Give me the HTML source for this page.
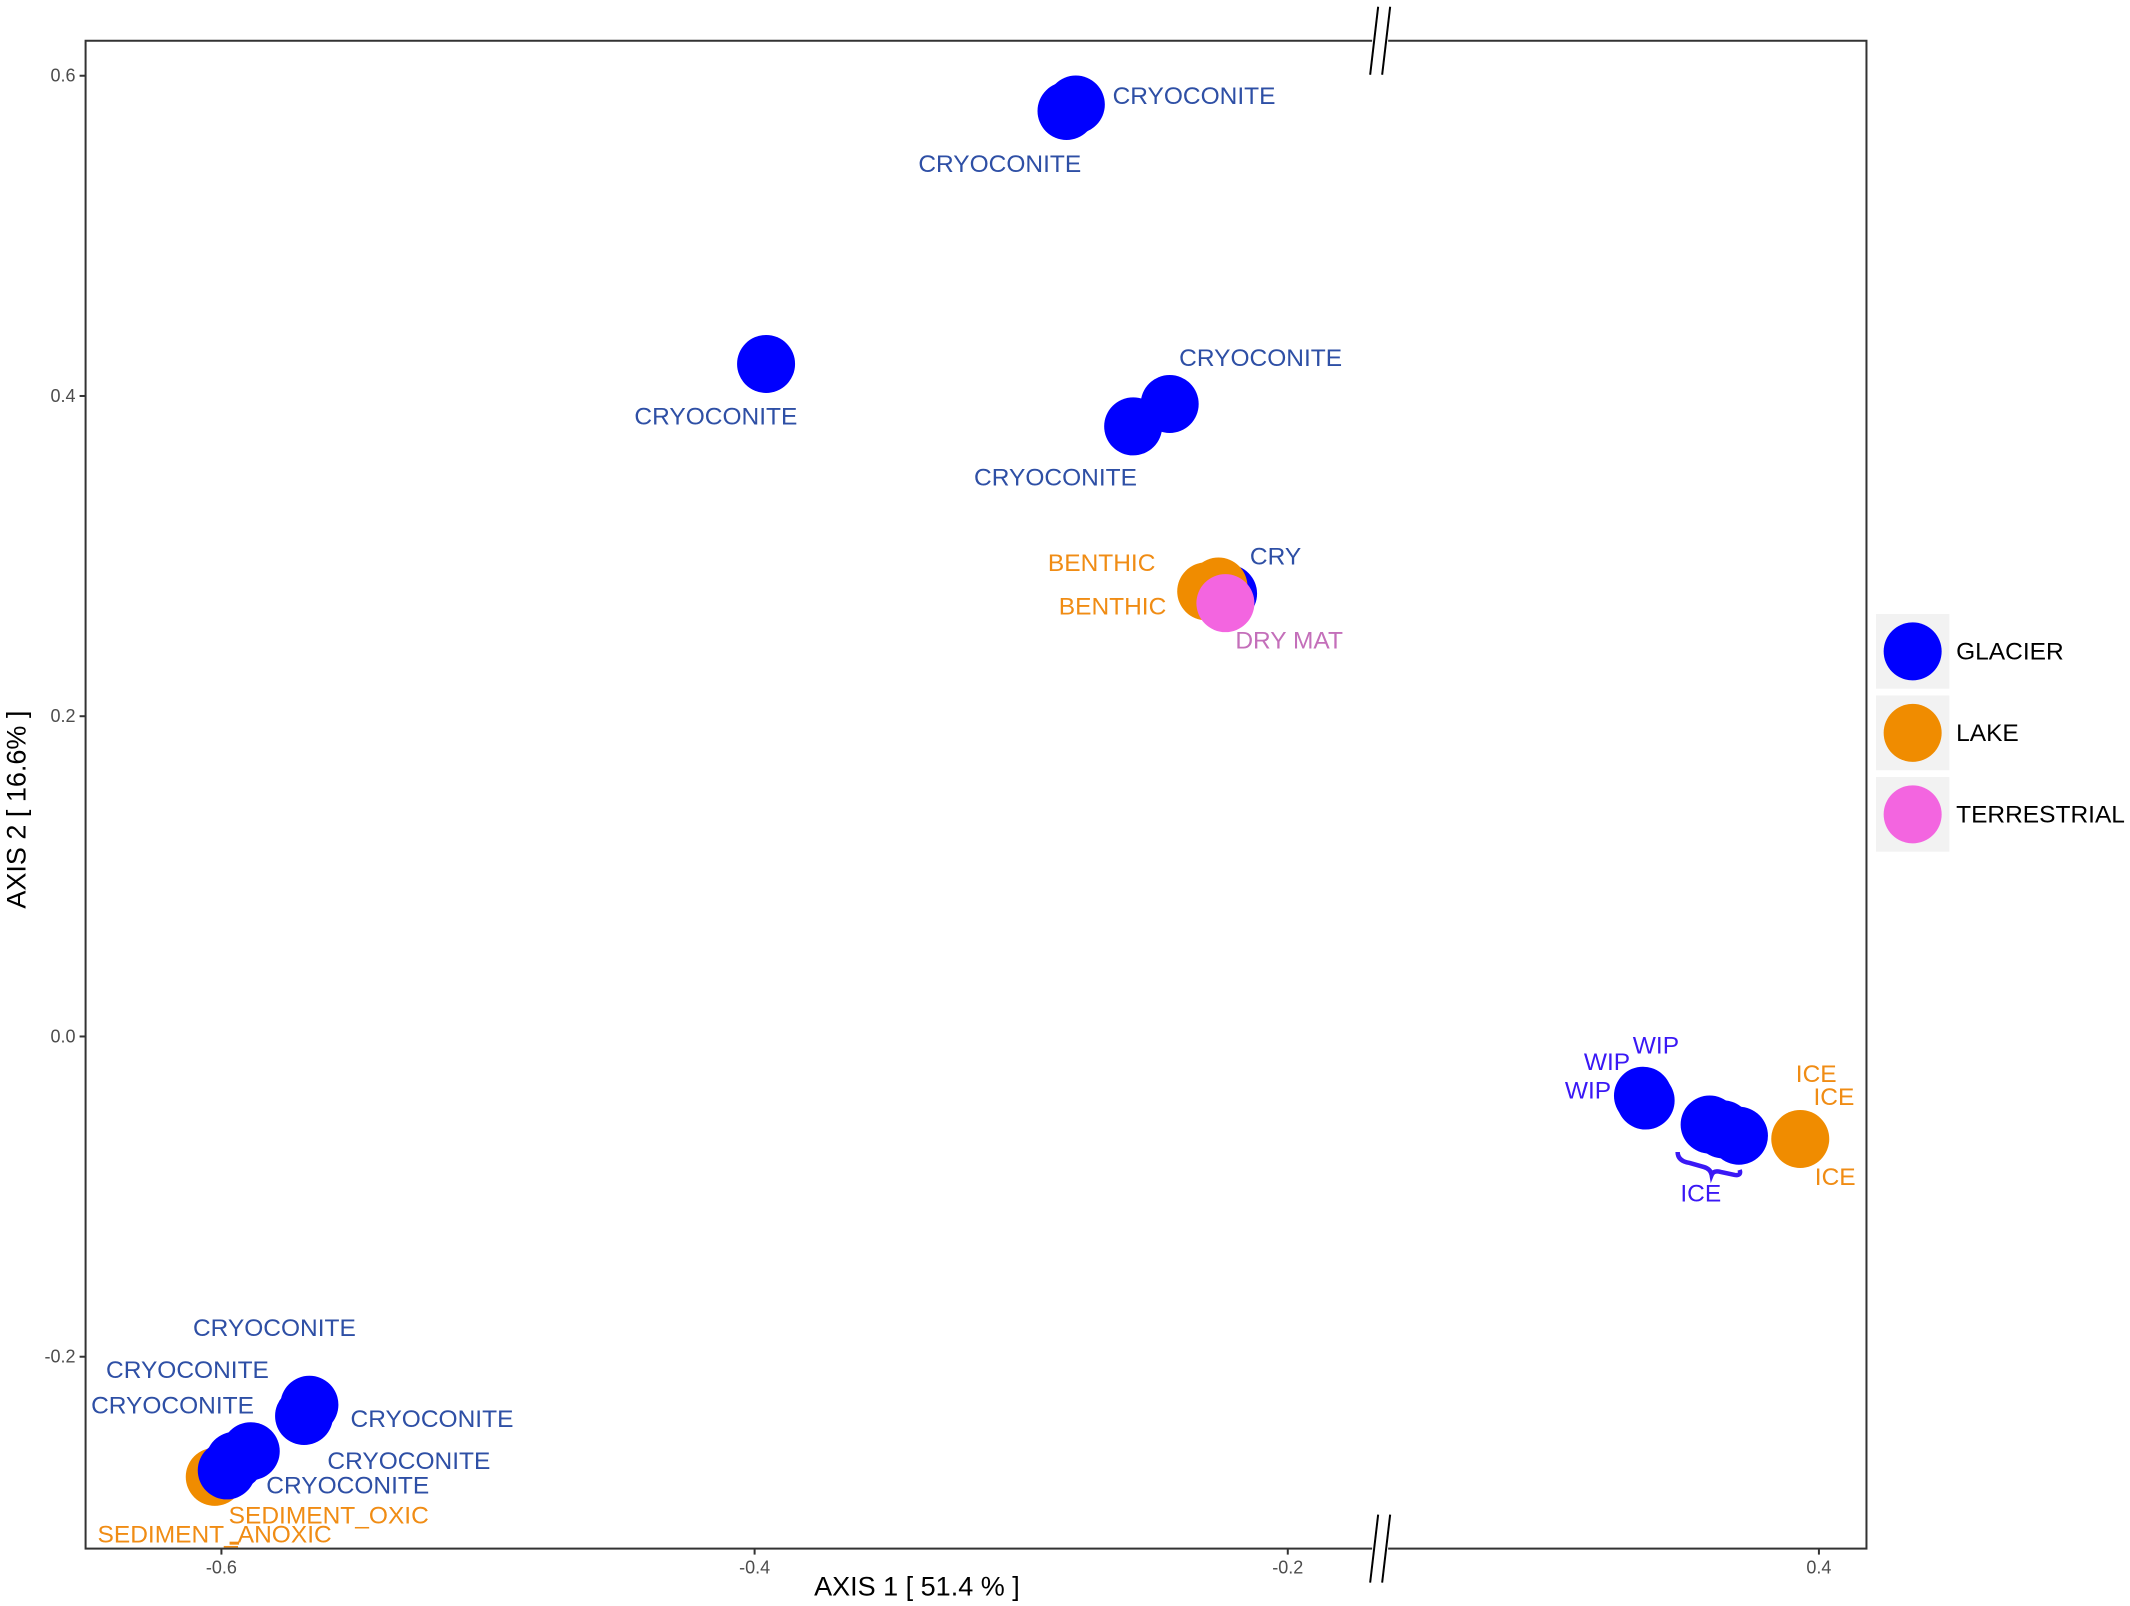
<!DOCTYPE html>
<html><head><meta charset="utf-8"><style>
html,body{margin:0;padding:0;background:#fff;}
svg{display:block;font-family:"Liberation Sans",Arial,sans-serif;}
</style></head><body>
<svg id="chart" width="2130" height="1606" viewBox="0 0 2130 1606" xmlns="http://www.w3.org/2000/svg">
<rect x="0" y="0" width="2130" height="1606" fill="#fff"/>
<g id="labels"></g>
<g id="points-back"></g>
<g id="points"></g>
<g id="frame"></g>
</svg>
<script>
// ---- data ----
const glacierX = [-0.2795,-0.283,-0.3957,-0.2443,-0.258,-0.2224,-0.567,-0.569,-0.589,-0.598,-0.595,0.334,0.335,0.359,0.364,0.370];
const glacierY = [0.582,0.578,0.420,0.395,0.381,0.2766,-0.230,-0.237,-0.259,-0.271,-0.265,-0.037,-0.040,-0.055,-0.058,-0.062];
const lakeX = [-0.2306,-0.226,0.393,-0.6025];
const lakeY = [0.278,0.281,-0.064,-0.275];
const terrX = [-0.2234];
const terrY = [0.2706];
const xTicks = [-0.6,-0.4,-0.2,0.4];
const xTickLabels = ["-0.6","-0.4","-0.2","0.4"];
const yTicks = [0.6,0.4,0.2,0.0,-0.2];
const yTickLabels = ["0.6","0.4","0.2","0.0","-0.2"];
const legendNames = ["GLACIER","LAKE","TERRESTRIAL"];

// ---- scales ----
const K = 2130/1568;
const P = {l:63*K, t:30*K, r:1374*K, b:1140*K};
const breakVal = -0.165;
const slope = 1962.5*K;
function sx(v){ return v < breakVal ? (163 + (v+0.6)*1962.5)*K : 1339*K + (v-0.4)*slope; }
function sy(v){ return (763 - v*1178.75)*K; }
const R = 29;
const NS = "http://www.w3.org/2000/svg";
function el(tag, attrs, parent){ const e=document.createElementNS(NS,tag); for(const k in attrs) e.setAttribute(k,attrs[k]); parent.appendChild(e); return e; }

const colG="#0000ff", colL="#f08c00", colT="#f365e0";
const pts = document.getElementById('points');
const ptsBack = document.getElementById('points-back');
function drawSeries(xs, ys, col, nm, backFn){
  for(let i=0;i<xs.length;i++){
    const parent = backFn && backFn(xs[i]) ? ptsBack : pts;
    const c = el('circle',{cx:sx(xs[i]),cy:sy(ys[i]),r:R,fill:col},parent);
    
    
  }
}
drawSeries(glacierX, glacierY, colG, 'glacier-point');
drawSeries(lakeX, lakeY, colL, 'lake-point', v => v < -0.5);
drawSeries(terrX, terrY, colT, 'terrestrial-point');

// ---- point labels (displayed-px positions) ----
const cB="#2e4fa5", cP="#3a18f5", cO="#f08c14", cM="#c46fba";
const labs = [
 ["CRYOCONITE",879,71,cB],["CRYOCONITE",736,121,cB],["CRYOCONITE",527,307,cB],
 ["CRYOCONITE",928,264,cB],["CRYOCONITE",777,352,cB],["CRY",939,410,cB],
 ["BENTHIC",811,415,cO],["BENTHIC",819,447,cO],["DRY MAT",949,472,cM],
 ["WIP",1219,770,cP],["WIP",1183,782,cP],["WIP",1169,803,cP],
 ["ICE",1337,791,cO],["ICE",1350,808,cO],["ICE",1351,867,cO],["ICE",1252,879,cP],
 ["CRYOCONITE",202,978,cB],["CRYOCONITE",138,1009,cB],["CRYOCONITE",127,1035,cB],
 ["CRYOCONITE",318,1045,cB],["CRYOCONITE",301,1076,cB],["CRYOCONITE",256,1094,cB],
 ["SEDIMENT_OXIC",242,1116,cO],["SEDIMENT_ANOXIC",158,1130,cO]
];
const lg = document.getElementById('labels');
labs.forEach(a=>{
  const t = el('text',{x:a[1]*K,y:a[2]*K,fill:a[3],'font-size':24.5,'text-anchor':'middle','dominant-baseline':'central'},lg);
  t.textContent = a[0];
  
  
});
// brace under ICE cluster
const x0 = 1235*K, y0b = 848*K;
const br = el('path',{d:`M${x0} ${y0b} q0 9 12 11 l14 4 q7 2 8 8 q2 -5 9 -3 l14 3 q7 1 5 -5`,stroke:cP,'stroke-width':4.5,fill:'none'},lg);


const dash = el('line',{x1:169*K,y1:1136*K,x2:176*K,y2:1136*K,stroke:cO,'stroke-width':3},lg);



// ---- frame, axes ----
const fr = document.getElementById('frame');
const border = el('rect',{x:P.l,y:P.t,width:P.r-P.l,height:P.b-P.t,fill:'none',stroke:'#333','stroke-width':2},fr);


const bx = 1016*K;
[P.t,P.b].forEach((yy,i)=>{
  el('rect',{x:bx-8,y:yy-3,width:16,height:6,fill:'#fff'},fr);
  const g = el('g',{stroke:'#000','stroke-width':2},fr);
  
  
  el('line',{x1:bx-10,y1:yy+34,x2:bx-2,y2:yy-34},g);
  el('line',{x1:bx+2,y1:yy+34,x2:bx+10,y2:yy-34},g);
});
xTicks.forEach((v,i)=>{
  const X = sx(v);
  el('line',{x1:X,y1:P.b,x2:X,y2:P.b+6,stroke:'#333','stroke-width':2},fr);
  const t = el('text',{x:X,y:P.b+25,'font-size':18,fill:'#4d4d4d','text-anchor':'middle'},fr);
  t.textContent = xTickLabels[i];
  
  
});
yTicks.forEach((v,i)=>{
  const Y = sy(v);
  el('line',{x1:P.l-6,y1:Y,x2:P.l,y2:Y,stroke:'#333','stroke-width':2},fr);
  const t = el('text',{x:P.l-10,y:Y,'font-size':18,fill:'#4d4d4d','text-anchor':'end','dominant-baseline':'central'},fr);
  t.textContent = yTickLabels[i];
  
  
});
const xt = el('text',{x:675*K,y:1168*K,'font-size':27,fill:'#000','text-anchor':'middle','dominant-baseline':'central'},fr);
xt.textContent = "AXIS 1 [ 51.4 % ]";


const yt = el('text',{x:0,y:0,'font-size':27,fill:'#000','text-anchor':'middle','dominant-baseline':'central',transform:`translate(${12*K},${596*K}) rotate(-90)`},fr);
yt.textContent = "AXIS 2 [ 16.6% ]";



// ---- legend ----
const legCols = [colG,colL,colT];
const legTops = [452,512,572];
legendNames.forEach((n,i)=>{
  const g = el('g',{},fr);
  
  
  const y0 = legTops[i]*K;
  el('rect',{x:1381*K,y:y0,width:54*K,height:55*K,fill:'#f2f2f2'},g);
  el('circle',{cx:1408*K,cy:y0+27.5*K,r:R,fill:legCols[i]},g);
  const t = el('text',{x:1440*K,y:y0+28*K,'font-size':24.5,fill:'#000','dominant-baseline':'central'},g);
  t.textContent = n;
});
</script>
</body></html>
